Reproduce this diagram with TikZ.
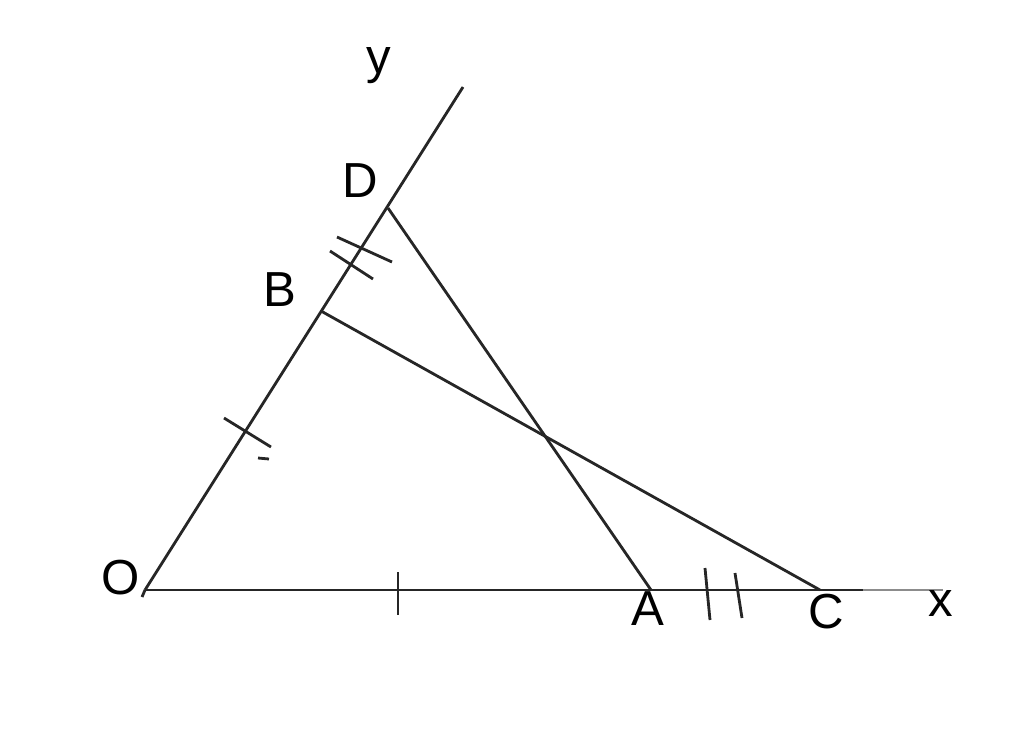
\documentclass[tikz,border=0pt]{standalone}
\usepackage{fontspec}
\setmainfont{Liberation Sans}
\usetikzlibrary{positioning, calc}

\begin{document}
\begin{tikzpicture}[
    x=0.02cm, y=-0.02cm,
    seg/.style={line width=1.6pt, black!85},
    tick/.style={line width=1.6pt, black!85},
    lbl/.style={font=\fontsize{28}{30}\selectfont, inner sep=0pt}
]
\useasboundingbox (0,0) rectangle (1024,731);

% points
\coordinate (O) at (145,590);
\coordinate (A) at (651,590);
\coordinate (C) at (820,590);
\coordinate (B) at (321,311);
\coordinate (D) at (388,208);
\coordinate (yend) at (463,87);
\coordinate (xdark) at (863,590);
\coordinate (xend) at (943,590);

% axes
\draw[seg] (O) -- (xdark);
\draw[line width=1.6pt, black!45] (xdark) -- (xend);
\draw[seg] (O) -- (yend);
\draw[seg] (O) -- ++(-3,7);

% segments
\draw[seg] (D) -- (A);
\draw[seg] (B) -- (C);

% equal marks
\draw[tick] (398,572) -- (398,615);
\draw[tick] (705,568) -- (710,620);
\draw[tick] (735,573) -- (742,618);
\draw[tick] (224,418) -- (271,447);
\draw[tick] (258,458) -- (269,459);
\draw[tick] (337,237) -- (392,262);
\draw[tick] (330,251) -- (373,279);

% labels
\node[lbl] (ly) at (379,66) {y};
\node[lbl] (lD) at (360,181) {D};
\node[lbl] (lB) at (280,290) {B};
\node[lbl] (lO) at (121,578) {O};
\node[lbl] (lA) at (648,609) {A};
\node[lbl] (lC) at (826,612) {C};
\node[lbl] (lx) at (941,603) {x};
\end{tikzpicture}
\end{document}
